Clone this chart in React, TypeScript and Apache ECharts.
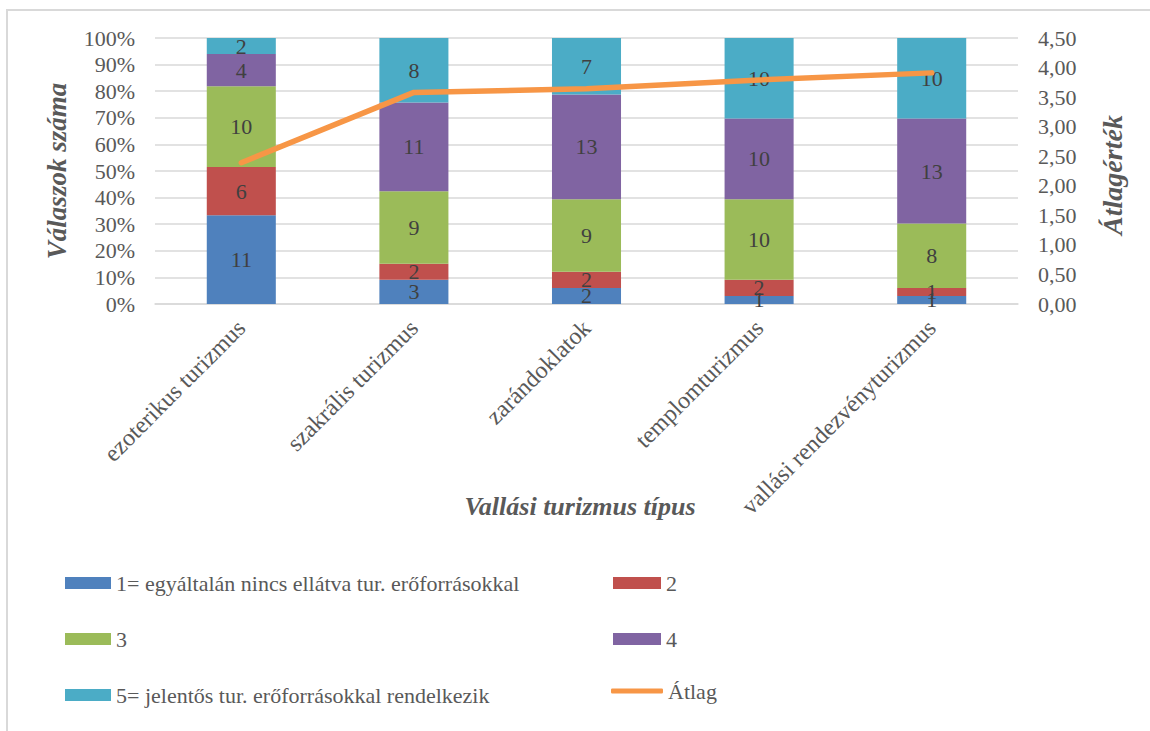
import React, { useEffect, useRef } from "react";
import * as echarts from "echarts";

const categories = [
  "ezoterikus turizmus",
  "szakrális turizmus",
  "zarándoklatok",
  "templomturizmus",
  "vallási rendezvényturizmus",
];
const seriesNames = [
  "1= egyáltalán nincs ellátva tur. erőforrásokkal",
  "2",
  "3",
  "4",
  "5= jelentős tur. erőforrásokkal rendelkezik",
];
const counts1 = [11, 3, 2, 1, 1];
const counts2 = [6, 2, 2, 2, 1];
const counts3 = [10, 9, 9, 10, 8];
const counts4 = [4, 11, 13, 10, 13];
const counts5 = [2, 8, 7, 10, 10];
const averages = [2.39, 3.58, 3.64, 3.79, 3.91];
const averageName = "Átlag";
const colors = ["#4F81BD", "#C0504D", "#9BBB59", "#8064A2", "#4BACC6"];
const lineColor = "#F79646";

const FONT = "'Liberation Serif', 'Times New Roman', serif";
const TEXT = "#595959";

export default function App() {
  const ref = useRef<HTMLDivElement>(null);
  useEffect(() => {
    if (!ref.current) return;
    const chart = echarts.init(ref.current, null, { renderer: "svg" });
    const all = [counts1, counts2, counts3, counts4, counts5];
    const totals = categories.map((_, i) => all.reduce((s, a) => s + a[i], 0));
    const barSeries = all.map((arr, si) => ({
      name: seriesNames[si],
      type: "bar",
      stack: "total",
      barWidth: "40%",
      yAxisIndex: 0,
      itemStyle: { color: colors[si] },
      data: arr.map((v, i) => (v / totals[i]) * 100),
      label: {
        show: true,
        position: "inside",
        fontFamily: FONT,
        fontSize: 22,
        color: "#404040",
        formatter: (p: any) => String(arr[p.dataIndex]),
      },
    }));
    const legendText = { fontFamily: FONT, fontSize: 22, color: TEXT, lineHeight: 20 };
    chart.setOption({
      animation: false,
      backgroundColor: "#ffffff",
      textStyle: { fontFamily: FONT },
      grid: { left: 155, right: 132, top: 38, bottom: 427 },
      xAxis: {
        type: "category",
        data: categories,
        axisLine: { lineStyle: { color: "#d9d9d9", width: 1.5 } },
        axisTick: { show: false },
        axisLabel: {
          rotate: 45,
          fontFamily: FONT,
          fontSize: 24,
          color: TEXT,
          margin: 20,
          interval: 0,
        },
      },
      yAxis: [
        {
          type: "value",
          min: 0,
          max: 100,
          interval: 10,
          axisLine: { show: false },
          axisTick: { show: false },
          splitLine: { lineStyle: { color: "#d9d9d9", width: 1.5 } },
          axisLabel: {
            formatter: "{value}%",
            fontFamily: FONT,
            fontSize: 22,
            color: TEXT,
            margin: 20,
          },
        },
        {
          type: "value",
          min: 0,
          max: 4.5,
          interval: 0.5,
          position: "right",
          axisLine: { show: false },
          axisTick: { show: false },
          splitLine: { show: false },
          axisLabel: {
            formatter: (v: number) => v.toFixed(2).replace(".", ","),
            fontFamily: FONT,
            fontSize: 22,
            color: TEXT,
            margin: 20,
          },
        },
      ],
      legend: [
        {
          data: [seriesNames[0], seriesNames[2], seriesNames[4]],
          orient: "vertical",
          left: 60,
          top: 567,
          icon: "rect",
          itemWidth: 46,
          itemHeight: 12,
          itemGap: 34,
          textStyle: legendText,
        },
        {
          data: [seriesNames[1], seriesNames[3]],
          orient: "vertical",
          left: 608,
          top: 567,
          icon: "rect",
          itemWidth: 48,
          itemHeight: 12,
          itemGap: 34,
          textStyle: legendText,
        },
        {
          data: [averageName],
          orient: "vertical",
          left: 606,
          top: 675,
          icon: "roundRect",
          itemWidth: 52,
          itemHeight: 5,
          textStyle: legendText,
        },
      ],
      graphic: [
        {
          type: "rect",
          silent: true,
          z: -1,
          shape: { x: 7, y: 10, width: 1300, height: 900 },
          style: { fill: "none", stroke: "#d9d9d9", lineWidth: 2 },
        },
        {
          type: "text",
          x: 57,
          y: 171,
          rotation: Math.PI / 2,
          style: {
            text: "Válaszok száma",
            font: `italic bold 27px ${FONT}`,
            fill: TEXT,
            align: "center",
            verticalAlign: "middle",
          },
        },
        {
          type: "text",
          x: 1112,
          y: 175,
          rotation: Math.PI / 2,
          style: {
            text: "Átlagérték",
            font: `italic bold 28px ${FONT}`,
            fill: TEXT,
            align: "center",
            verticalAlign: "middle",
          },
        },
        {
          type: "text",
          x: 580,
          y: 506,
          style: {
            text: "Vallási turizmus típus",
            font: `italic bold 26px ${FONT}`,
            fill: TEXT,
            align: "center",
            verticalAlign: "middle",
          },
        },
      ],
      series: [
        ...barSeries,
        {
          name: averageName,
          type: "line",
          yAxisIndex: 1,
          data: averages,
          symbol: "none",
          lineStyle: { color: lineColor, width: 5.5, cap: "round" },
          itemStyle: { color: lineColor },
          z: 5,
        },
      ],
    });
    return () => chart.dispose();
  }, []);
  return (
    <div
      ref={ref}
      style={{ position: "absolute", left: 0, top: 0, width: 1150, height: 731 }}
    />
  );
}
